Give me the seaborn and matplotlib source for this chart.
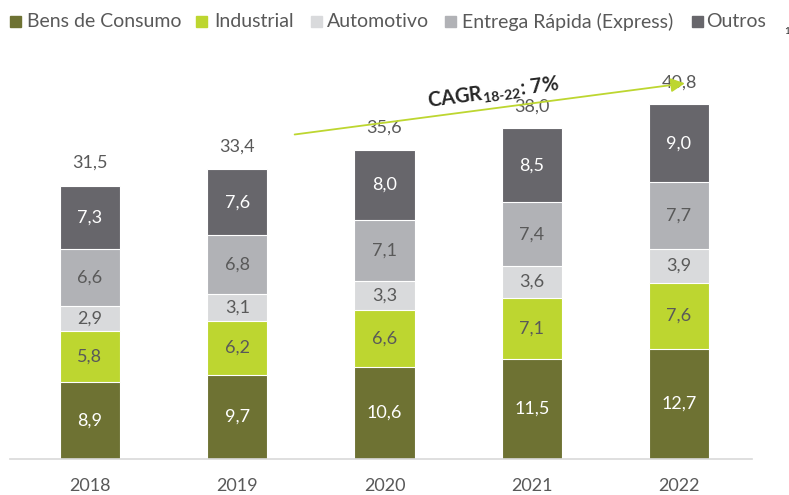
import matplotlib

matplotlib.use("Agg")

import matplotlib.pyplot as plt
import numpy as np
import pandas as pd
import seaborn as sns
from matplotlib.patches import Rectangle

# values (bottom -> top)
years = ["2018", "2019", "2020", "2021", "2022"]
segments = ["Bens de Consumo", "Industrial", "Automotivo", "Entrega Rápida (Express)", "Outros"]
bens_consumo = [8.9, 9.7, 10.6, 11.5, 12.7]
industrial = [5.8, 6.2, 6.6, 7.1, 7.6]
automotivo = [2.9, 3.1, 3.3, 3.6, 3.9]
entrega_rapida = [6.6, 6.8, 7.1, 7.4, 7.7]
outros = [7.3, 7.6, 8.0, 8.5, 9.0]
totals = [31.5, 33.4, 35.6, 38.0, 40.8]
cagr_label = "CAGR"
cagr_period = "18-22"
cagr_value = ": 7%"

colors = ["#6E7233", "#BDD630", "#D9DADC", "#B1B2B6", "#67666B"]
label_colors = ["white", "#595959", "#595959", "#595959", "white"]
GREY = "#595959"
W, H = 789, 495

df = pd.DataFrame(
    {
        "Year": years,
        segments[0]: bens_consumo,
        segments[1]: industrial,
        segments[2]: automotivo,
        segments[3]: entrega_rapida,
        segments[4]: outros,
    }
)
cum = df[segments].cumsum(axis=1)

sns.set_theme(style="white")
plt.rcParams["font.family"] = ["Lato", "DejaVu Sans"]
plt.rcParams["mathtext.fontset"] = "custom"
plt.rcParams["mathtext.bf"] = "Lato:bold"
plt.rcParams["mathtext.rm"] = "Lato:bold"

fig = plt.figure(figsize=(W / 100, H / 100), dpi=100)
ax = fig.add_axes([10 / W, 36 / H, 742 / W, 459 / H])

# stacked bars: draw cumulative sums from the top layer down
for seg, color in reversed(list(zip(segments, colors))):
    sns.barplot(
        x=df["Year"],
        y=cum[seg],
        color=color,
        width=0.41,
        edgecolor="white",
        linewidth=0.8,
        saturation=1,
        ax=ax,
    )

for i in range(len(years)):
    for j, seg in enumerate(segments):
        val = df.loc[i, seg]
        mid = cum.loc[i, seg] - val / 2
        ax.text(i, mid, f"{val:.1f}".replace(".", ","), ha="center", va="center",
                fontsize=13, color=label_colors[j])
    ax.text(i, totals[i] + 2.6, f"{totals[i]:.1f}".replace(".", ","), ha="center",
            va="center", fontsize=13, color=GREY)

ax.set_xlim(-0.543, 4.496)
ax.set_ylim(0, 52.9)
ax.set_xlabel("")
ax.set_ylabel("")
ax.set_yticks([])
ax.tick_params(axis="x", length=0, pad=14, labelsize=13, labelcolor=GREY)
for side in ["left", "right", "top"]:
    ax.spines[side].set_visible(False)
ax.spines["bottom"].set_color("#D9D9D9")
ax.spines["bottom"].set_linewidth(1.2)

# CAGR arrow
ax.annotate(
    "",
    xy=(4.04, 43.3),
    xytext=(1.39, 37.4),
    arrowprops=dict(arrowstyle="-|>,head_length=0.7,head_width=0.35",
                    color="#BDD630", lw=1.3, shrinkA=0, shrinkB=0),
)
ax.text(
    2.74, 42.2,
    cagr_label + r"$_{\text{" + cagr_period + "}}$" + cagr_value,
    ha="center", va="center", rotation=7.5, fontsize=14.5, fontweight="bold",
    color="#262626",
)

# legend row across the top (marker left edge, text left edge in px)
legend_pos = [(10, 27), (196, 214), (311, 327), (445, 462), (692, 706)]
y_mid = 21.5
for (mx, tx), seg, color in zip(legend_pos, segments, colors):
    fig.patches.append(
        Rectangle((mx / W, 1 - (y_mid + 5.5) / H), 11 / W, 11 / H,
                  transform=fig.transFigure, color=color, figure=fig)
    )
    fig.text(tx / W, 1 - y_mid / H, seg, fontsize=14, color=GREY,
             ha="left", va="center")
fig.text(784 / W, 1 - 32 / H, "1", fontsize=7, color="#262626", ha="left", va="center")

fig.savefig("out.png", dpi=100)
